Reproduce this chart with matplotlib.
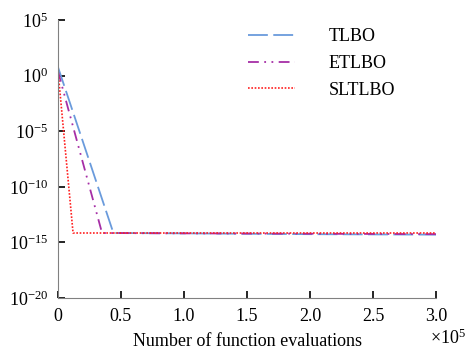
import numpy as np
import matplotlib.pyplot as plt

plt.rcParams['font.family'] = 'Liberation Serif'
plt.rcParams['mathtext.fontset'] = 'custom'
plt.rcParams['mathtext.rm'] = 'Liberation Serif'
plt.rcParams['mathtext.it'] = 'Liberation Serif'

# convergence curves (function evaluations vs best fitness)
tlbo_x = [0, 44000, 100000, 200000, 300000]
tlbo_y = [6.0, 7e-15, 6.5e-15, 5.5e-15, 5e-15]

etlbo_x = [0, 35000, 100000, 200000, 300000]
etlbo_y = [2.5, 7e-15, 6.5e-15, 6e-15, 5.5e-15]

sltlbo_x = [0, 12000, 100000, 200000, 300000]
sltlbo_y = [3.0, 7e-15, 7e-15, 7e-15, 7e-15]

y_exps = [5, 0, -5, -10, -15, -20]
x_ticks = [0, 50000, 100000, 150000, 200000, 250000, 300000]
x_labels = ['0', '0.5', '1.0', '1.5', '2.0', '2.5', '3.0']

fig = plt.figure(figsize=(4.71, 3.51), dpi=100)
ax = fig.add_axes([0.123, 0.151, 0.803, 0.792])

ax.semilogy(tlbo_x, tlbo_y, color='#6a9bdc', lw=1.3, dashes=(11, 3), label='TLBO')
ax.semilogy(etlbo_x, etlbo_y, color='#a62ea6', lw=1.3, dashes=(6, 3, 1, 3, 1, 3), label='ETLBO')
ax.semilogy(sltlbo_x, sltlbo_y, color='#ff2020', lw=1.2, dashes=(1, 1), label='SLTLBO')

ax.set_xlim(0, 300000)
ax.set_ylim(1e-20, 1e5)
ax.set_yticks([10.0 ** e for e in y_exps])
ax.set_yticklabels(['$10^{%d}$' % e for e in y_exps], fontsize=13)
ax.minorticks_off()
ax.set_xticks(x_ticks)
ax.set_xticklabels(x_labels, fontsize=13)

for s in ['top', 'right']:
    ax.spines[s].set_visible(False)
for s in ['left', 'bottom']:
    ax.spines[s].set_color('#808080')
ax.tick_params(direction='in', length=5, width=1.2, color='black', pad=7)

ax.set_xlabel('Number of function evaluations', fontsize=13, labelpad=6)
ax.text(0.985, -0.165, r'$\times10^{5}$', transform=ax.transAxes, fontsize=13)

ax.legend(loc='upper right', bbox_to_anchor=(0.935, 1.03), frameon=False,
          fontsize=13, handlelength=2.6, labelspacing=0.55, handletextpad=1.9)

fig.savefig('out.png', dpi=100)
